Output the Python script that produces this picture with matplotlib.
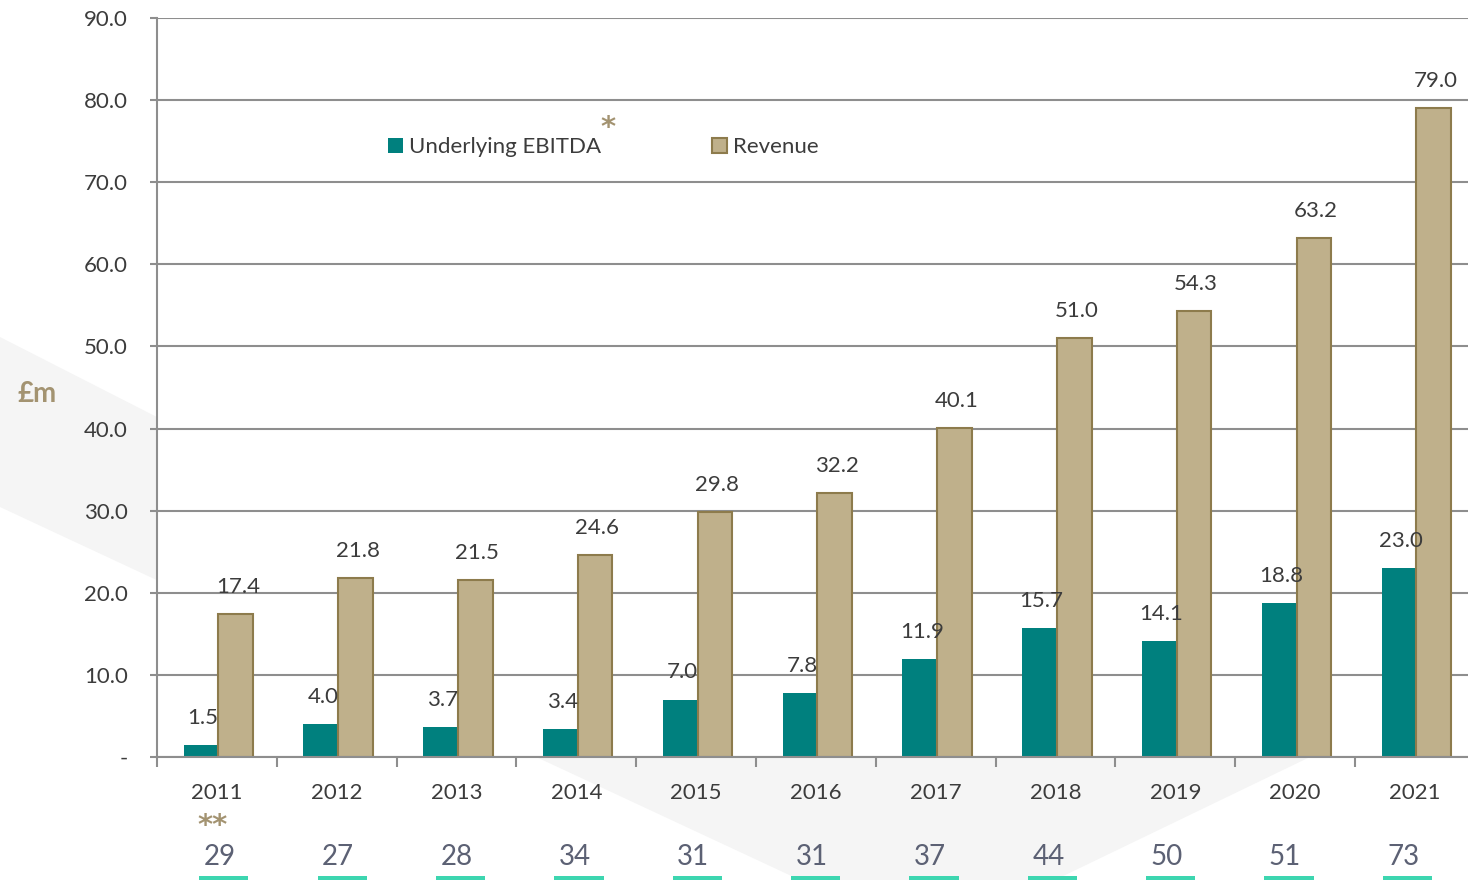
import matplotlib
matplotlib.use('Agg')
import matplotlib.pyplot as plt
from matplotlib.patches import Polygon, Rectangle
from matplotlib.transforms import blended_transform_factory
import numpy as np

# ---------------- data ----------------
years = ['2011', '2012', '2013', '2014', '2015', '2016', '2017', '2018', '2019', '2020', '2021']
ebitda = [1.5, 4.0, 3.7, 3.4, 7.0, 7.8, 11.9, 15.7, 14.1, 18.8, 23.0]
revenue = [17.4, 21.8, 21.5, 24.6, 29.8, 32.2, 40.1, 51.0, 54.3, 63.2, 79.0]
bottom_counts = [29, 27, 28, 34, 31, 31, 37, 44, 50, 51, 73]
y_ticks = [0, 10, 20, 30, 40, 50, 60, 70, 80, 90]
y_tick_labels = ['-', '10.0', '20.0', '30.0', '40.0', '50.0', '60.0', '70.0', '80.0', '90.0']
series_labels = ['Underlying EBITDA', 'Revenue']

# ---------------- style ----------------
plt.rcParams['font.family'] = ['Lato', 'DejaVu Sans']
TEAL = '#00807E'
GOLD_FILL = '#BFB08B'
GOLD_EDGE = '#8D7B4C'
GOLD_TEXT = '#A39371'
GRID = '#8E8E8E'
TXT = '#3C3C3C'
NUM = '#5C6174'
MINT = '#3DD6B0'
FS = 16

W, H = 1468, 880
fig = plt.figure(figsize=(W / 100, H / 100), dpi=100)

# faint background chevron (figure pixel coords, y down)
bg_px = [(0, 337), (600, 643), (1468, 643), (1468, 680), (1310, 757),
         (1055, 880), (800, 880), (0, 507)]
fig.add_artist(Polygon([(px / W, 1 - py / H) for px, py in bg_px],
                       closed=True, transform=fig.transFigure,
                       facecolor='#F5F5F5', edgecolor='none', zorder=-10))

cw = 119.8
ax = fig.add_axes([157 / W, 1 - 757 / H, 11 * cw / W, (757 - 18) / H])
ax.set_facecolor('white')

x = np.arange(len(years))
bw = 0.29
b1 = ax.bar(x - bw / 2 + 0.012, ebitda, bw, color=TEAL, zorder=2, label=series_labels[0])
b2 = ax.bar(x + bw / 2 + 0.012, revenue, bw, color=GOLD_FILL, edgecolor=GOLD_EDGE,
            linewidth=1.5, zorder=2, label=series_labels[1])

ax.set_xlim(-0.5, len(years) - 0.5)
ax.set_ylim(0, 90)

ax.set_yticks(y_ticks, y_tick_labels)
ax.yaxis.grid(True, color=GRID, linewidth=1.5)
ax.set_axisbelow(True)
for s in ['top', 'right']:
    ax.spines[s].set_visible(False)
for s in ['left', 'bottom']:
    ax.spines[s].set_color(GRID)
    ax.spines[s].set_linewidth(1.5)

ax.tick_params(axis='y', length=5, width=1.5, color=GRID, pad=16,
               labelsize=FS, labelcolor=TXT)
ax.set_xticks(x, years)
ax.set_xticks(np.arange(-0.5, len(years), 1), minor=True)
ax.tick_params(axis='x', which='major', length=0, pad=19, labelsize=FS, labelcolor=TXT)
ax.tick_params(axis='x', which='minor', length=7, width=1.5, color=GRID)

# value labels
for i in range(len(years)):
    ax.annotate(f'{ebitda[i]:.1f}', (x[i] - bw / 2 + 0.012, ebitda[i]), xytext=(1.5, 19.5),
                textcoords='offset points', ha='center', va='center',
                fontsize=FS, color=TXT, zorder=5)
    ax.annotate(f'{revenue[i]:.1f}', (x[i] + bw / 2 + 0.012, revenue[i]), xytext=(1.5, 19.5),
                textcoords='offset points', ha='center', va='center',
                fontsize=FS, color=TXT, zorder=5)

# legend
fig.legend([b1, b2], series_labels, loc='center left',
           bbox_to_anchor=(388 / W, 1 - 147 / H), ncol=2, frameon=False,
           fontsize=FS, handlelength=0.66, handleheight=0.66,
           handletextpad=0.28, columnspacing=5.0, borderpad=0,
           borderaxespad=0, labelcolor=TXT)
fig.text(608 / W, 1 - 128 / H, '*', ha='center', va='center',
         fontsize=21, fontweight='bold', color=GOLD_TEXT, family='DejaVu Sans')

# £m axis label
fig.text(37 / W, 1 - 394 / H, '£m', ha='center', va='center',
         fontsize=20, fontweight='bold', color=GOLD_TEXT)

# bottom counts with mint underlines (this row is spaced slightly tighter)
tr = blended_transform_factory(ax.transData, fig.transFigure)
row_scale = 118.35 / cw
for i, n in enumerate(bottom_counts):
    xn = x[i] * row_scale + 3 / cw
    xu = x[i] * row_scale + 7 / cw
    ax.annotate(str(n), xy=(xn, 1 - 857 / H), xycoords=tr,
                ha='center', va='center',
                fontsize=20, color=NUM, annotation_clip=False)
    fig.add_artist(Rectangle((xu - 0.205, -0.01), 0.41, 0.01 + 4 / H,
                             transform=tr, facecolor=MINT, edgecolor='none'))

ax.annotate('**', xy=(x[0], 1 - 826 / H), xycoords=tr, xytext=(-3, 0),
            textcoords='offset points', ha='center', va='center',
            fontsize=21, fontweight='bold', color=GOLD_TEXT, family='DejaVu Sans',
            annotation_clip=False)

fig.savefig('out.png', dpi=100)
